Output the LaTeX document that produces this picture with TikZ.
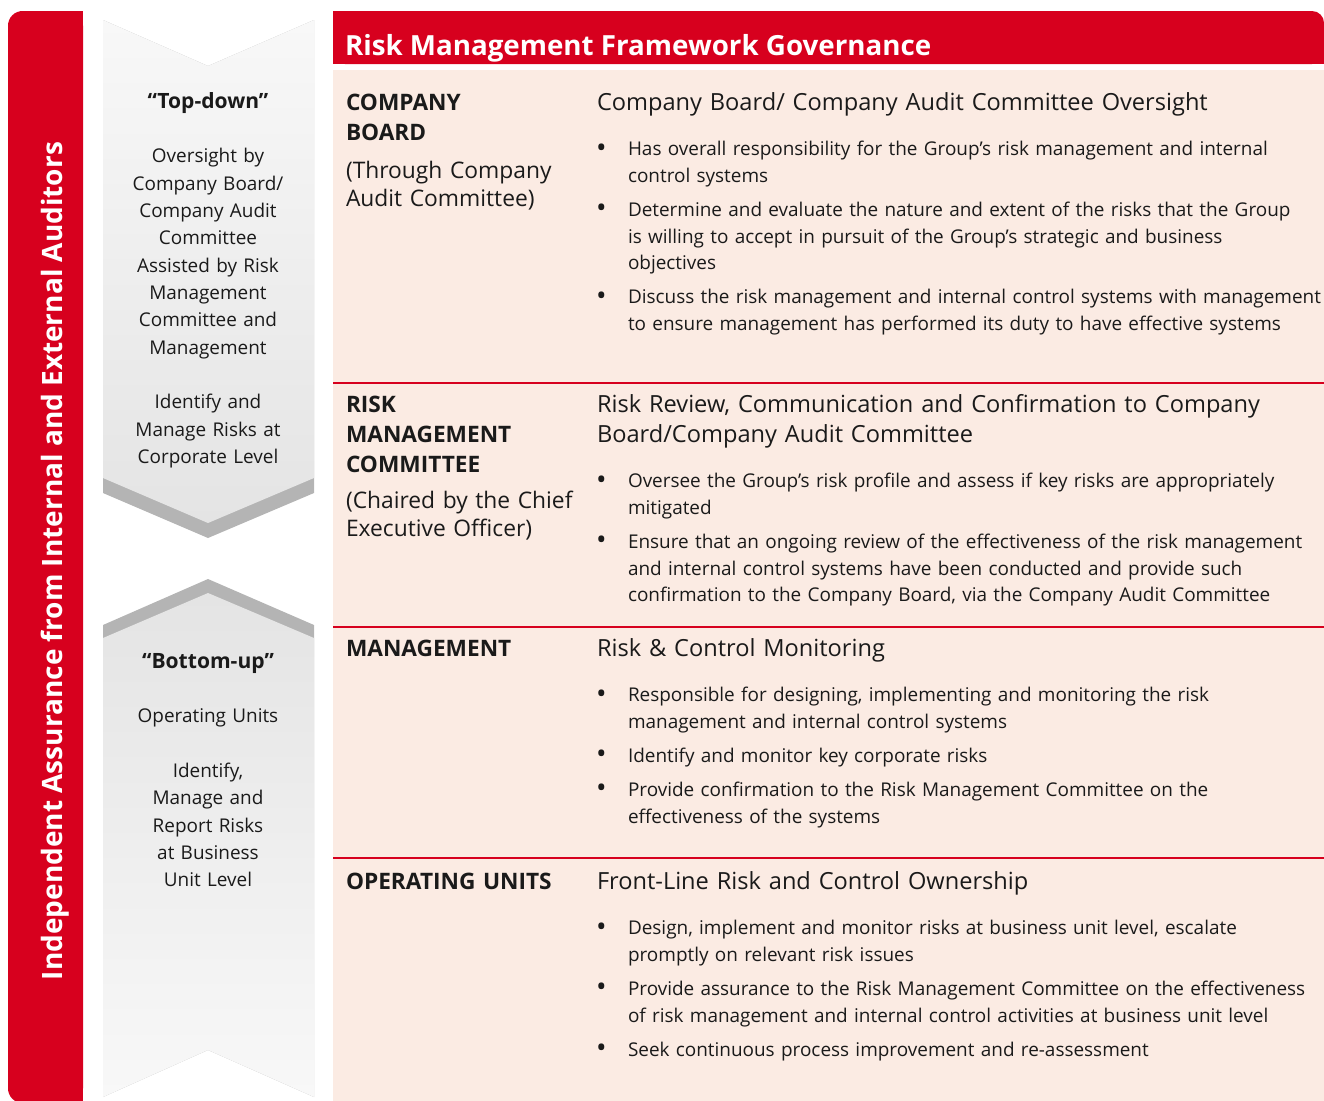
\documentclass[tikz,border=0pt]{standalone}
\usepackage{fontspec}
\setmainfont{Open Sans}
\usetikzlibrary{positioning}
\definecolor{rmred}{HTML}{D7001E}
\definecolor{rmpink}{HTML}{FBEBE3}
\definecolor{rmband}{HTML}{B4B4B4}
\definecolor{rmlight}{HTML}{F8F8F8}
\definecolor{rmmid}{HTML}{E4E4E4}
\definecolor{rmtext}{HTML}{1A1A1A}
\newcommand{\arrowhead}[1]{{\bfseries\fontsize{15.8pt}{20.5pt}\selectfont #1}}

\begin{document}
\begin{tikzpicture}[x=0.75pt, y=-0.75pt, text=rmtext,
  every node/.style={inner sep=0pt, outer sep=0pt},
  side text/.style={text=white, font=\bfseries\fontsize{21pt}{24pt}\selectfont, rotate=90},
  title text/.style={text=white, anchor=base west, font=\bfseries\fontsize{20.8pt}{24pt}\selectfont},
  arrow text/.style={anchor=base, text width=160pt, align=center,
    font=\fontsize{14.2pt}{20.5pt}\selectfont},
  unit name/.style={anchor=base west, text width=180pt, align=left,
    font=\bfseries\fontsize{17pt}{22.5pt}\selectfont},
  unit note/.style={anchor=base west, text width=180pt, align=left,
    font=\fontsize{17.1pt}{21.5pt}\selectfont},
  head text/.style={anchor=base west, text width=540pt, align=left,
    font=\fontsize{17.7pt}{22.5pt}\selectfont,
    execute at begin node=\strut, execute at end node=\strut},
  item/.style={text width=540pt, align=left,
    font=\fontsize{14.2pt}{20pt}\selectfont,
    execute at begin node={\strut\llap{{\fontsize{21pt}{20pt}\selectfont\raisebox{-1.2pt}{\textbullet}}\hspace{16pt}}},
    execute at end node=\strut}]

\useasboundingbox (0,0) rectangle (1324,1100);

% left red bar
\fill[rmred, rounded corners=11pt] (8,11) rectangle (83,1103);
\fill[rmred] (45,11) rectangle (83,1103);
\node[side text] (assure) at (55,561) {Independent Assurance from Internal and External Auditors};

% top-down arrow
\fill[rmband] (103,20) -- (208,66) -- (314,20) -- (314,493) -- (208,538) -- (103,493) -- cycle;
\shade[top color=rmlight, bottom color=rmmid] (103,20) -- (208,66) -- (314,20) -- (314,478) -- (208,523) -- (103,478) -- cycle;
\node[arrow text] (topdown) at (208,108) {\arrowhead{“Top-down”}\\[20.5pt]
  Oversight by\\Company Board/\\Company Audit\\Committee\\Assisted by Risk\\Management\\Committee and\\Management\\[20.5pt]
  Identify and\\Manage Risks at\\Corporate Level};

% bottom-up arrow
\fill[rmband] (103,625) -- (208,579) -- (314,625) -- (314,1097) -- (208,1050) -- (103,1097) -- cycle;
\shade[top color=rmmid, bottom color=rmlight] (103,638) -- (208,593) -- (314,638) -- (314,1097) -- (208,1050) -- (103,1097) -- cycle;
\node[arrow text] (bottomup) at (208,668) {\arrowhead{“Bottom-up”}\\[20.5pt]
  Operating Units\\[20.5pt]
  Identify,\\Manage and\\Report Risks\\at Business\\Unit Level};

% header and panel
\fill[rmred, rounded corners=9pt] (333,11) rectangle (1324,64);
\fill[rmred] (333,11) rectangle (1300,64);
\fill[rmred] (333,35) rectangle (1324,64);
\node[title text] (title) at (345,55) {Risk Management Framework Governance};
\fill[rmpink] (333,70) rectangle (1324,1103);
\foreach \y in {383,627,858}
  \draw[rmred, line width=1pt] (333,\y) -- (1324,\y);

% company board
\node[unit name] (board) at (346,110) {COMPANY\\BOARD};
\node[unit note] (boardnote) at (346,178) {(Through Company\\Audit Committee)};
\node[head text] (h1) at (597,110) {Company Board/ Company Audit Committee Oversight};
\node[item, below right=13.5pt and 23.25pt of h1.south west] (b11) {Has overall responsibility for the Group’s risk management and internal\\control systems};
\node[item, below right=5.5pt and 0pt of b11.south west] (b12) {Determine and evaluate the nature and extent of the risks that the Group\\is willing to accept in pursuit of the Group’s strategic and business\\objectives};
\node[item, below right=5.5pt and 0pt of b12.south west] (b13) {Discuss the risk management and internal control systems with management\\to ensure management has performed its duty to have effective systems};

% risk management committee
\node[unit name] (rmc) at (346,412) {RISK\\MANAGEMENT\\COMMITTEE};
\node[unit note] (rmcnote) at (346,508) {(Chaired by the Chief\\Executive Officer)};
\node[head text] (h2) at (597,412) {Risk Review, Communication and Confirmation to Company\\Board/Company Audit Committee};
\node[item, below right=13.5pt and 23.25pt of h2.south west] (b21) {Oversee the Group’s risk profile and assess if key risks are appropriately\\mitigated};
\node[item, below right=5.5pt and 0pt of b21.south west] (b22) {Ensure that an ongoing review of the effectiveness of the risk management\\and internal control systems have been conducted and provide such\\confirmation to the Company Board, via the Company Audit Committee};

% management
\node[unit name] (mgmt) at (346,656) {MANAGEMENT};
\node[head text] (h3) at (597,656) {Risk \& Control Monitoring};
\node[item, below right=13.5pt and 23.25pt of h3.south west] (b31) {Responsible for designing, implementing and monitoring the risk\\management and internal control systems};
\node[item, below right=5.5pt and 0pt of b31.south west] (b32) {Identify and monitor key corporate risks};
\node[item, below right=5.5pt and 0pt of b32.south west] (b33) {Provide confirmation to the Risk Management Committee on the\\effectiveness of the systems};

% operating units
\node[unit name] (units) at (346,889) {OPERATING UNITS};
\node[head text] (h4) at (597,889) {Front-Line Risk and Control Ownership};
\node[item, below right=13.5pt and 23.25pt of h4.south west] (b41) {Design, implement and monitor risks at business unit level, escalate\\promptly on relevant risk issues};
\node[item, below right=5.5pt and 0pt of b41.south west] (b42) {Provide assurance to the Risk Management Committee on the effectiveness\\of risk management and internal control activities at business unit level};
\node[item, below right=5.5pt and 0pt of b42.south west] (b43) {Seek continuous process improvement and re-assessment};
\end{tikzpicture}
\end{document}
